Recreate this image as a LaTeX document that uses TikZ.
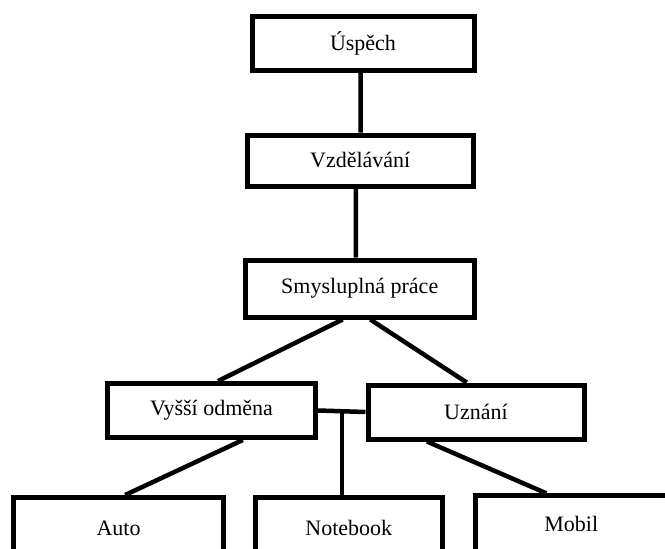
\documentclass[tikz,border=0pt]{standalone}
\usepackage{fontspec}
\setmainfont{Liberation Serif}
\usetikzlibrary{calc}
\begin{document}
\begin{tikzpicture}[x=1pt,y=-1pt,
  box/.style={draw=black,line width=5pt,rectangle,inner sep=0pt,
    font=\fontsize{22}{26}\selectfont,text=black},
  link/.style={draw=black,line width=4.5pt}]
\useasboundingbox (0,0) rectangle (665,549);
\clip (0,0) rectangle (665,549);

% boxes (sizes measured between stroke centres)
\node[box,minimum width=222pt,minimum height=54.5pt] (usp)  at (363,43.25)    {Úspěch};
\node[box,minimum width=225.5pt,minimum height=51pt] (vzd)  at (360.25,160.5) {Vzdělávání};
\node[box,minimum width=229.5pt,minimum height=57pt] (smys) at (359.75,288.5) {Smysluplná práce};
\node[box,minimum width=208pt,minimum height=54pt]   (vys)  at (211.5,410.5)  {Vyšší odměna};
\node[box,minimum width=216pt,minimum height=54pt]   (uzn)  at (476,412)      {Uznání};
\node[box,minimum width=210pt,minimum height=61pt]   (auto) at (118.5,528)    {Auto};
\node[box,minimum width=187.5pt,minimum height=61pt] (note) at (348.75,528)   {Notebook};
\node[box,minimum width=191.5pt,minimum height=55.6pt] (mob) at (571.25,523.6) {Mobil};

% connectors
\draw[link] ($(usp.south west)!0.49!(usp.south east)$) -- ($(vzd.north west)!0.502!(vzd.north east)$);
\draw[link] ($(vzd.south west)!0.481!(vzd.south east)$) -- ($(smys.north west)!0.484!(smys.north east)$);
\draw[link] ($(smys.south west)!0.427!(smys.south east)$) -- ($(vys.north west)!0.531!(vys.north east)$);
\draw[link] ($(smys.south west)!0.545!(smys.south east)$) -- ($(uzn.north west)!0.458!(uzn.north east)$);
\draw[link] (vys.east) -- (uzn.west);
\coordinate (j) at ($(vys.east)!0.5!(uzn.west)$);
\draw[link] (j) -- (j |- note.north);
\draw[link] ($(vys.south west)!0.647!(vys.south east)$) -- ($(auto.north west)!0.531!(auto.north east)$);
\draw[link] ($(uzn.south west)!0.278!(uzn.south east)$) -- ($(mob.north west)!0.373!(mob.north east)$);
\end{tikzpicture}
\end{document}
